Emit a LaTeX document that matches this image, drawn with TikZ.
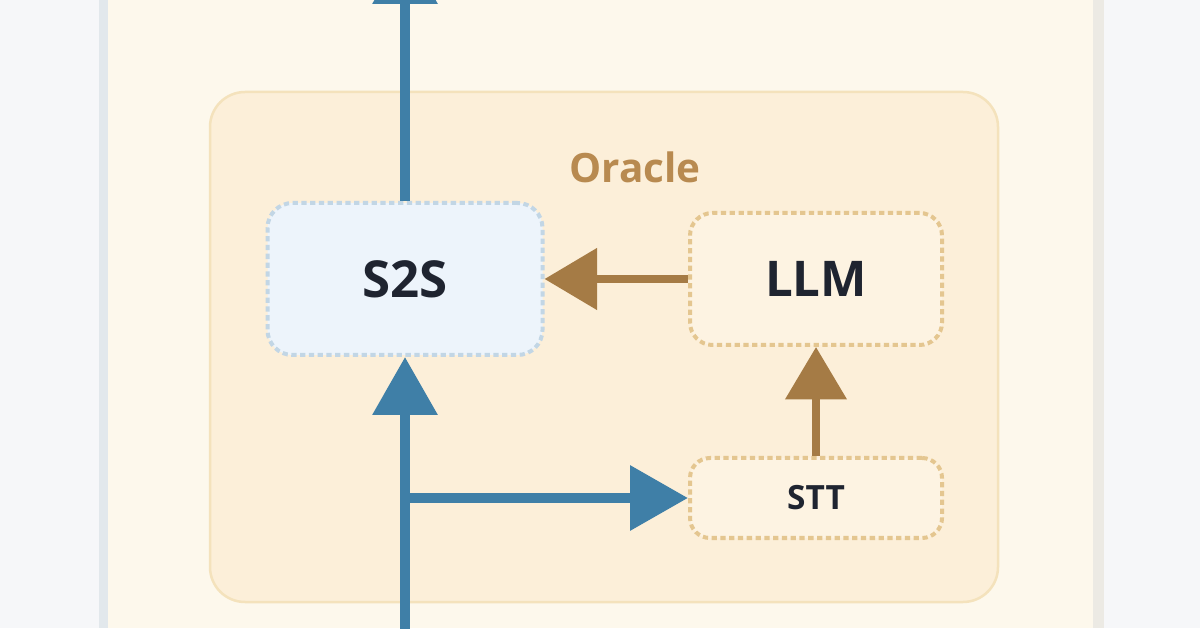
\documentclass[tikz,border=0pt]{standalone}
\usepackage{fontspec}
\setmainfont{Open Sans}
\usepackage{tikz}
\usetikzlibrary{arrows.meta,positioning,backgrounds}
\definecolor{pagebg}{HTML}{F6F7F9}
\definecolor{panelbg}{HTML}{FDF8EC}
\definecolor{panelleft}{HTML}{E2E8EC}
\definecolor{panelright}{HTML}{ECEAE4}
\definecolor{oraclebg}{HTML}{FCEFD9}
\definecolor{oracleline}{HTML}{F4E2BC}
\definecolor{oracletext}{HTML}{B88A50}
\definecolor{s2sbg}{HTML}{EDF4FB}
\definecolor{s2sline}{HTML}{C2D6E5}
\definecolor{tanbg}{HTML}{FDF3E2}
\definecolor{tanline}{HTML}{E4C690}
\definecolor{flowblue}{HTML}{3F7FA7}
\definecolor{flowbrown}{HTML}{A57B45}
\definecolor{labeltext}{HTML}{1F2430}

\begin{document}
\begin{tikzpicture}
[bluebox/.style={rectangle,rounded corners=0.5cm,draw=s2sline,fill=s2sbg,line width=0.08cm,densely dashed,text=labeltext,font=\fontsize{29}{32}\selectfont\bfseries},
 tanbox/.style={rectangle,rounded corners=0.45cm,draw=tanline,fill=tanbg,line width=0.08cm,densely dashed,text=labeltext,font=\fontsize{28}{32}\selectfont\bfseries},
 blueflow/.style={draw=flowblue,line width=0.2cm,-{Triangle[length=1.16cm,width=1.26cm]}},
 brownflow/.style={draw=flowbrown,line width=0.16cm,-{Triangle[length=1.05cm,width=1.2cm]}}]
\useasboundingbox (0,0) rectangle (24,12.56);
\fill[pagebg] (0,0) rectangle (24,12.56);
\fill[panelbg] (2.1,0) rectangle (22.0,12.56);
\fill[panelleft] (1.98,0) rectangle (2.16,12.56);
\fill[panelright] (21.86,0) rectangle (22.08,12.56);

\node (oracle) at (12.08,5.62) [rectangle,rounded corners=0.7cm,draw=oracleline,fill=oraclebg,line width=0.05cm,minimum width=15.76cm,minimum height=10.2cm] {};
\node (oraclelabel) at (12.7,9.22) [text=oracletext,font=\fontsize{23}{26}\selectfont\bfseries] {Oracle};

\node[bluebox] (s2s) at (8.1,6.98) [minimum width=5.5cm,minimum height=3.04cm] {S2S};
\node[tanbox] (llm) at (16.32,6.98) [minimum width=5.04cm,minimum height=2.64cm] {LLM};
\node[tanbox] (stt) at (16.32,2.6) [minimum width=5.04cm,minimum height=1.6cm,rounded corners=0.4cm,font=\fontsize{19}{22}\selectfont\bfseries] {STT};

\coordinate (in) at (8.1,-0.2);
\coordinate (split) at (8.1,2.6);
\coordinate (out) at (8.1,13.64);

\draw [blueflow] (in) -- (s2s.south);
\draw [blueflow] (split) -- (stt.west);
\draw [blueflow] (s2s.north) -- (out);
\draw [brownflow] (llm.west) -- (s2s.east);
\draw [brownflow] (stt.north) -- (llm.south);
\end{tikzpicture}
\end{document}
